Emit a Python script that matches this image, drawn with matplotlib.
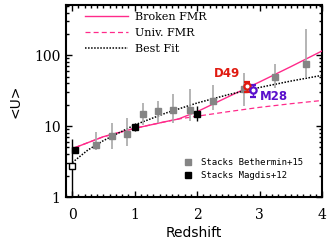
import matplotlib
matplotlib.use("Agg")
import matplotlib.pyplot as plt
from matplotlib.lines import Line2D
from matplotlib.ticker import MultipleLocator, LogLocator, NullFormatter, FixedLocator, FixedFormatter
import numpy as np

# Stacks Bethermin+15 (grey)
beth_z = [0.38, 0.63, 0.88, 1.13, 1.38, 1.62, 1.88, 2.25, 2.75, 3.25, 3.75]
beth_u = [5.5, 7.2, 7.7, 14.8, 16.4, 16.8, 16.8, 22.5, 33.0, 49.5, 74.0]
beth_lo = [4.6, 4.7, 5.2, 10.4, 11.0, 11.0, 11.7, 16.8, 19.5, 34.8, 49.0]
beth_hi = [8.3, 11.0, 13.2, 21.5, 22.5, 28.0, 33.0, 37.5, 57.0, 74.5, 237.0]

# Stacks Magdis+12 (black)
mag_z = [0.05, 1.0, 2.0]
mag_u = [4.6, 9.7, 14.8]
mag_lo = [4.6, 8.6, 11.7]
mag_hi = [4.6, 11.0, 19.0]

# open square at z=0
open_z = [0.0]
open_u = [2.75]
open_lo = [0.5]
open_hi = [6.6]

# individual galaxies
d49_z, d49_u, d49_lo, d49_hi = 2.80, 36.5, 30.5, 42.0
m28_z, m28_u, m28_lo, m28_hi = 2.90, 32.0, 26.0, 37.5

# model curves
broken_z = [0.05, 0.5, 1.0, 1.5, 1.70, 2.0, 2.5, 3.0, 3.5, 4.0]
broken_u = [5.0, 7.1, 9.3, 11.6, 12.6, 16.0, 26.0, 42.0, 69.0, 115.0]
univ_z = [0.05, 0.5, 1.0, 1.5, 1.70, 2.0, 2.5, 3.0, 3.5, 4.0]
univ_u = [5.0, 7.1, 9.3, 11.6, 12.6, 13.8, 16.0, 18.4, 20.7, 23.0]
best_z = [0.0, 0.25, 0.5, 1.0, 1.5, 2.0, 2.5, 3.0, 3.5, 4.0]
best_u = [3.06, 4.6, 6.25, 10.4, 15.3, 21.2, 27.8, 35.1, 43.2, 52.0]

xticks = [0, 1, 2, 3, 4]
yticks = [1, 10, 100]
yticklabels = ["1", "10", "100"]

pink = "#ff2a8a"
grey_m = "#858585"
grey_e = "#a8a8a8"
red = "#e01a10"
blue = "#5a10cc"

fig = plt.figure(figsize=(3.3, 2.48), dpi=100)
ax = fig.add_axes([0.2, 0.2056, 0.776, 0.774])
ax.set_xlim(-0.1, 4.0)
ax.set_yscale("log")
ax.set_ylim(1, 510)

l1, = ax.plot(univ_z, univ_u, color=pink, lw=0.9, ls=(0, (4, 2.5)), zorder=2)
l0, = ax.plot(broken_z, broken_u, color=pink, lw=1.0, zorder=3)
l2, = ax.plot(best_z, best_u, color="black", lw=1.1, ls=(0, (1, 1)), zorder=3)

def err(z, u, lo, hi):
    u = np.asarray(u)
    return [u - np.asarray(lo), np.asarray(hi) - u]

ax.errorbar(beth_z, beth_u, yerr=err(beth_z, beth_u, beth_lo, beth_hi), fmt="s",
            color=grey_m, ecolor=grey_e, elinewidth=1.2, ms=4.5, capsize=0, zorder=4)
ax.errorbar(mag_z, mag_u, yerr=err(mag_z, mag_u, mag_lo, mag_hi), fmt="s",
            color="black", ecolor="black", elinewidth=1.0, ms=4.5, capsize=0, zorder=5)
ax.errorbar(open_z, open_u, yerr=err(open_z, open_u, open_lo, open_hi), fmt="s",
            mfc="white", mec="black", mew=1.0, ecolor="black", elinewidth=1.0, ms=5,
            capsize=0, zorder=5)
ax.errorbar([d49_z], [d49_u], yerr=[[d49_u - d49_lo], [d49_hi - d49_u]], fmt="o",
            mfc="white", mec=red, mew=1.6, ecolor=red, elinewidth=1.0, ms=4.5,
            capsize=2, zorder=6)
ax.errorbar([m28_z], [m28_u], yerr=[[m28_u - m28_lo], [m28_hi - m28_u]], fmt="o",
            mfc="white", mec=blue, mew=1.6, ecolor=blue, elinewidth=1.0, ms=4.5,
            capsize=2, zorder=6)

ax.text(2.48, 55, "D49", color=red, fontsize=8.5, fontweight="bold",
        ha="center", va="center", family="DejaVu Sans")
ax.text(3.01, 26.5, "M28", color=blue, fontsize=8.5, fontweight="bold",
        ha="left", va="center", family="DejaVu Sans")

# axes styling
ax.xaxis.set_major_locator(FixedLocator(xticks))
ax.xaxis.set_minor_locator(MultipleLocator(0.1))
ax.yaxis.set_major_locator(FixedLocator(yticks))
ax.yaxis.set_major_formatter(FixedFormatter(yticklabels))
ax.yaxis.set_minor_locator(LogLocator(base=10, subs=np.arange(2, 10)))
ax.yaxis.set_minor_formatter(NullFormatter())
ax.tick_params(which="both", direction="in", top=True, right=True, width=1.0)
ax.tick_params(which="major", length=4, labelsize=10)
ax.tick_params(axis="x", which="major", pad=8)
ax.tick_params(axis="y", which="major", pad=4)
ax.tick_params(which="minor", length=2)
for lab in ax.get_xticklabels() + ax.get_yticklabels():
    lab.set_family("DejaVu Serif")
for s in ax.spines.values():
    s.set_linewidth(1.5)

ax.set_xlabel("Redshift", fontsize=10, family="DejaVu Sans", labelpad=3)
ax.set_ylabel("<U>", fontsize=10, family="DejaVu Sans", labelpad=8)

leg1 = ax.legend([l0, l1, l2], ["Broken FMR", "Univ. FMR", "Best Fit"],
                 loc="upper left", bbox_to_anchor=(0.061, 0.98), borderaxespad=0,
                 frameon=False, handlelength=3.9, handletextpad=0.6,
                 labelspacing=0.53, borderpad=0.3,
                 prop={"family": "DejaVu Serif", "size": 8})
ax.add_artist(leg1)

h_g = Line2D([], [], ls="none", marker="s", ms=5, color=grey_m)
h_b = Line2D([], [], ls="none", marker="s", ms=5, color="black")
ax.legend([h_g, h_b], ["Stacks Bethermin+15", "Stacks Magdis+12"],
          loc="upper left", bbox_to_anchor=(0.448, 0.215), borderaxespad=0,
          frameon=False, handlelength=1.0, handletextpad=0.95,
          labelspacing=0.4, borderpad=0.3,
          prop={"family": "DejaVu Sans Mono", "size": 6.5})

fig.savefig("out.png", dpi=100)
